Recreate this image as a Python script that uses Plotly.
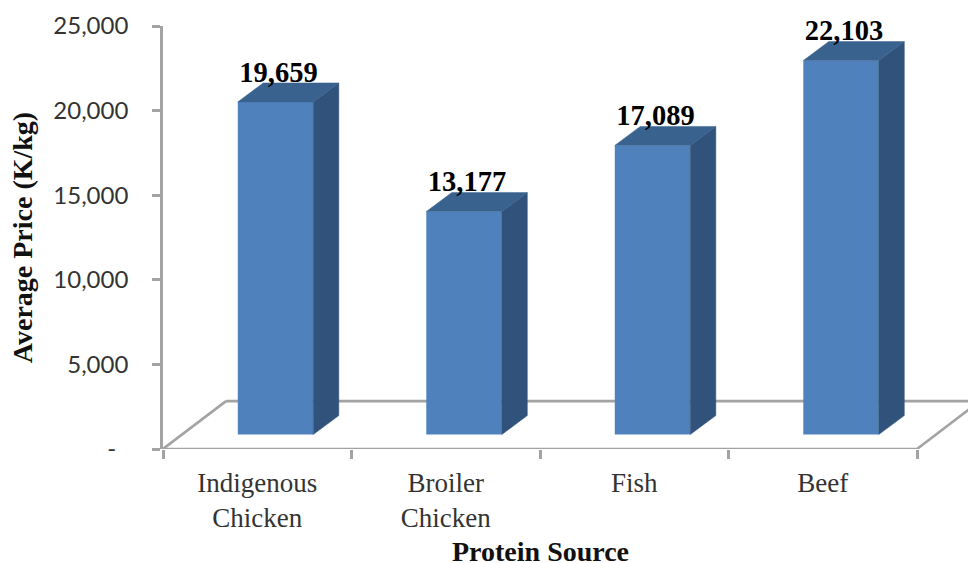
import plotly.graph_objects as go

# Chart data
categories = ["Indigenous<br>Chicken", "Broiler<br>Chicken", "Fish", "Beef"]
prices = [19659, 13177, 17089, 22103]
value_labels = ["19,659", "13,177", "17,089", "22,103"]
y_ticks = [0, 5000, 10000, 15000, 20000, 25000]
y_tick_labels = ["-\u00a0\u00a0", "5,000", "10,000", "15,000", "20,000", "25,000"]

# Figure geometry and pseudo-3D projection
WIDTH, HEIGHT = 968, 563
LEFT, TOP, BOTTOM = 163, 25.5, 113.5
CAT_PX = 188.5
UNIT_PX = (HEIGHT - BOTTOM - TOP) / 25000
X_MAX = -0.5 + (WIDTH - LEFT) / CAT_PX


def dx(px):
    return px / CAT_PX


def dy(px):
    return px / UNIT_PX


BAR_WIDTH = dx(75.5)
BAR_SHIFT = dx(18.3)
BAR_BASE = dy(14.5)
DEPTH_X, DEPTH_Y = dx(25.5), dy(19)
FLOOR_X, FLOOR_Y = dx(63), dy(48)

FRONT = "#4F81BD"
SIDE = "#31527A"
ROOF = "#3A628F"
AXIS = "#A3A3A3"
SERIF = "Liberation Serif"
LINE_W = 2.6

fig = go.Figure()


def floor_line(x0, y0, x1, y1):
    fig.add_shape(type="line", xref="x", yref="y", x0=x0, y0=y0, x1=x1, y1=y1,
                  layer="below", line=dict(color=AXIS, width=LINE_W))


# Floor outline and horizontal axis, kept underneath the bars
floor_line(-0.5, 0, -0.5 + FLOOR_X, FLOOR_Y)
floor_line(-0.5 + FLOOR_X, FLOOR_Y, X_MAX + 1, FLOOR_Y)
floor_line(3.5, 0, 3.5 + FLOOR_X, FLOOR_Y)
floor_line(-0.5, 0, 3.5, 0)

# Front faces of the bars
fig.add_trace(go.Bar(
    x=[i + BAR_SHIFT for i in range(len(prices))],
    y=prices,
    base=[BAR_BASE] * len(prices),
    width=BAR_WIDTH,
    marker=dict(color=FRONT, line=dict(width=0)),
    hoverinfo="skip",
))

# Side and roof faces projected from each bar's value
for i, value in enumerate(prices):
    left = i + BAR_SHIFT - BAR_WIDTH / 2
    right = i + BAR_SHIFT + BAR_WIDTH / 2
    top = BAR_BASE + value
    fig.add_trace(go.Scatter(
        x=[right, right + DEPTH_X, right + DEPTH_X, right, right],
        y=[BAR_BASE, BAR_BASE + DEPTH_Y, top + DEPTH_Y, top, BAR_BASE],
        mode="lines", fill="toself", fillcolor=SIDE,
        line=dict(color=SIDE, width=0.5), hoverinfo="skip",
    ))
    fig.add_trace(go.Scatter(
        x=[left, left + DEPTH_X, right + DEPTH_X, right, left],
        y=[top, top + DEPTH_Y, top + DEPTH_Y, top, top],
        mode="lines", fill="toself", fillcolor=ROOF,
        line=dict(color=ROOF, width=0.5), hoverinfo="skip",
    ))

# Value labels sitting on the bar roofs
fig.add_trace(go.Scatter(
    x=[i + BAR_SHIFT + dx(3) for i in range(len(prices))],
    y=[BAR_BASE + v + DEPTH_Y - dy(6) for v in prices],
    mode="text",
    text=value_labels,
    textposition="top center",
    textfont=dict(family=SERIF, size=28.5, color="#000000", weight="bold"),
    cliponaxis=False,
    hoverinfo="skip",
))

fig.update_layout(
    width=WIDTH,
    height=HEIGHT,
    margin=dict(l=LEFT, r=0, t=TOP, b=BOTTOM, pad=0),
    paper_bgcolor="white",
    plot_bgcolor="white",
    showlegend=False,
    barmode="overlay",
    xaxis=dict(
        range=[-0.5, X_MAX],
        showgrid=False,
        zeroline=False,
        showline=False,
        tickmode="array",
        tickvals=list(range(len(categories))),
        ticktext=categories,
        ticks="",
        ticklabelstandoff=15,
        tickfont=dict(family=SERIF, size=27, color="#333333"),
        minor=dict(tickmode="array", tickvals=[-0.5, 0.5, 1.5, 2.5, 3.5],
                   ticks="outside", ticklen=9, tickwidth=LINE_W, tickcolor=AXIS),
    ),
    yaxis=dict(
        range=[0, 25000],
        showgrid=False,
        zeroline=False,
        showline=True,
        linecolor=AXIS,
        linewidth=LINE_W,
        tickmode="array",
        tickvals=y_ticks,
        ticktext=y_tick_labels,
        ticks="outside",
        ticklen=8,
        tickwidth=LINE_W,
        tickcolor=AXIS,
        ticklabelstandoff=19,
        tickfont=dict(family="Lato", size=24, color="#333333"),
        title=dict(text="Average Price (K/kg)", standoff=13,
                   font=dict(family=SERIF, size=28, color="#111111", weight="bold")),
    ),
    annotations=[dict(
        text="Protein Source",
        xref="x", yref="paper",
        x=1.5, y=0,
        yanchor="middle",
        yshift=-102,
        showarrow=False,
        font=dict(family=SERIF, size=28, color="#111111", weight="bold"),
    )],
)

fig.write_html("out.html", config=dict(displayModeBar=False))
